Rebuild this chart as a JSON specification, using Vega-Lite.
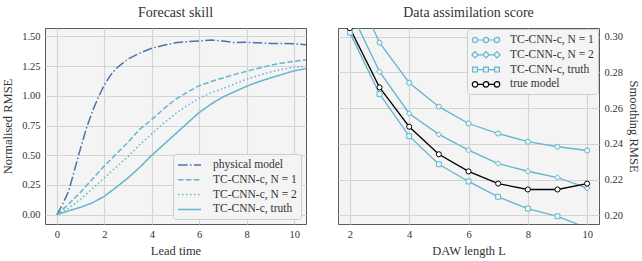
{
  "$schema": "https://vega.github.io/schema/vega-lite/v6.json",
  "padding": {"left": 1, "top": 5, "right": 0, "bottom": 2},
  "background": "white",
  "spacing": 30,
  "config": {
    "font": "Liberation Serif",
    "view": {"fill": "#f4f4f4", "stroke": "#5a5a5a", "strokeWidth": 1},
    "axis": {"labelFont": "Liberation Serif", "titleFont": "Liberation Serif", "labelFontSize": 10.5, "titleFontSize": 12.5, "titleFontWeight": "normal", "labelColor": "#333", "titleColor": "#333", "ticks": false, "domain": false, "gridColor": "#d4d4d4", "gridWidth": 1.1, "labelPadding": 5},
    "title": {"font": "Liberation Serif", "fontSize": 14, "fontWeight": "normal", "color": "#333", "offset": 8},
    "legend": {"labelFont": "Liberation Serif", "labelFontSize": 11.5, "labelColor": "#333", "fillColor": "#f4f4f4", "strokeColor": "#cccccc", "cornerRadius": 3, "padding": 4, "rowPadding": 1.8, "symbolSize": 144}
  },
  "hconcat": [
    {
      "width": 261,
      "height": 196,
      "title": "Forecast skill",
      "data": {"values": [
        {"t": 0, "v": 0, "s": "physical model"},
        {"t": 0.25, "v": 0.09, "s": "physical model"},
        {"t": 0.5, "v": 0.2, "s": "physical model"},
        {"t": 0.75, "v": 0.38, "s": "physical model"},
        {"t": 1.0, "v": 0.56, "s": "physical model"},
        {"t": 1.25, "v": 0.73, "s": "physical model"},
        {"t": 1.5, "v": 0.87, "s": "physical model"},
        {"t": 1.75, "v": 0.99, "s": "physical model"},
        {"t": 2.0, "v": 1.09, "s": "physical model"},
        {"t": 2.25, "v": 1.17, "s": "physical model"},
        {"t": 2.5, "v": 1.23, "s": "physical model"},
        {"t": 3.0, "v": 1.31, "s": "physical model"},
        {"t": 3.5, "v": 1.36, "s": "physical model"},
        {"t": 4.0, "v": 1.4, "s": "physical model"},
        {"t": 4.5, "v": 1.425, "s": "physical model"},
        {"t": 5.0, "v": 1.445, "s": "physical model"},
        {"t": 5.5, "v": 1.455, "s": "physical model"},
        {"t": 6.0, "v": 1.46, "s": "physical model"},
        {"t": 6.5, "v": 1.47, "s": "physical model"},
        {"t": 7.0, "v": 1.46, "s": "physical model"},
        {"t": 7.5, "v": 1.447, "s": "physical model"},
        {"t": 8.0, "v": 1.45, "s": "physical model"},
        {"t": 8.5, "v": 1.445, "s": "physical model"},
        {"t": 9.0, "v": 1.44, "s": "physical model"},
        {"t": 9.5, "v": 1.44, "s": "physical model"},
        {"t": 10.0, "v": 1.437, "s": "physical model"},
        {"t": 10.5, "v": 1.43, "s": "physical model"},
        {"t": 0, "v": 0, "s": "TC-CNN-c, N = 1"},
        {"t": 0.5, "v": 0.09, "s": "TC-CNN-c, N = 1"},
        {"t": 1.0, "v": 0.19, "s": "TC-CNN-c, N = 1"},
        {"t": 1.5, "v": 0.3, "s": "TC-CNN-c, N = 1"},
        {"t": 2.0, "v": 0.41, "s": "TC-CNN-c, N = 1"},
        {"t": 2.5, "v": 0.51, "s": "TC-CNN-c, N = 1"},
        {"t": 3.0, "v": 0.61, "s": "TC-CNN-c, N = 1"},
        {"t": 3.5, "v": 0.72, "s": "TC-CNN-c, N = 1"},
        {"t": 4.0, "v": 0.8, "s": "TC-CNN-c, N = 1"},
        {"t": 4.5, "v": 0.89, "s": "TC-CNN-c, N = 1"},
        {"t": 5.0, "v": 0.97, "s": "TC-CNN-c, N = 1"},
        {"t": 5.5, "v": 1.03, "s": "TC-CNN-c, N = 1"},
        {"t": 6.0, "v": 1.085, "s": "TC-CNN-c, N = 1"},
        {"t": 6.5, "v": 1.12, "s": "TC-CNN-c, N = 1"},
        {"t": 7.0, "v": 1.15, "s": "TC-CNN-c, N = 1"},
        {"t": 7.5, "v": 1.18, "s": "TC-CNN-c, N = 1"},
        {"t": 8.0, "v": 1.206, "s": "TC-CNN-c, N = 1"},
        {"t": 8.5, "v": 1.232, "s": "TC-CNN-c, N = 1"},
        {"t": 9.0, "v": 1.256, "s": "TC-CNN-c, N = 1"},
        {"t": 9.5, "v": 1.275, "s": "TC-CNN-c, N = 1"},
        {"t": 10.0, "v": 1.29, "s": "TC-CNN-c, N = 1"},
        {"t": 10.5, "v": 1.304, "s": "TC-CNN-c, N = 1"},
        {"t": 0, "v": 0, "s": "TC-CNN-c, N = 2"},
        {"t": 0.5, "v": 0.055, "s": "TC-CNN-c, N = 2"},
        {"t": 1.0, "v": 0.13, "s": "TC-CNN-c, N = 2"},
        {"t": 1.5, "v": 0.22, "s": "TC-CNN-c, N = 2"},
        {"t": 2.0, "v": 0.31, "s": "TC-CNN-c, N = 2"},
        {"t": 2.5, "v": 0.4, "s": "TC-CNN-c, N = 2"},
        {"t": 3.0, "v": 0.49, "s": "TC-CNN-c, N = 2"},
        {"t": 3.5, "v": 0.59, "s": "TC-CNN-c, N = 2"},
        {"t": 4.0, "v": 0.68, "s": "TC-CNN-c, N = 2"},
        {"t": 4.5, "v": 0.77, "s": "TC-CNN-c, N = 2"},
        {"t": 5.0, "v": 0.85, "s": "TC-CNN-c, N = 2"},
        {"t": 5.5, "v": 0.92, "s": "TC-CNN-c, N = 2"},
        {"t": 6.0, "v": 0.98, "s": "TC-CNN-c, N = 2"},
        {"t": 6.5, "v": 1.025, "s": "TC-CNN-c, N = 2"},
        {"t": 7.0, "v": 1.06, "s": "TC-CNN-c, N = 2"},
        {"t": 7.5, "v": 1.1, "s": "TC-CNN-c, N = 2"},
        {"t": 8.0, "v": 1.14, "s": "TC-CNN-c, N = 2"},
        {"t": 8.5, "v": 1.17, "s": "TC-CNN-c, N = 2"},
        {"t": 9.0, "v": 1.2, "s": "TC-CNN-c, N = 2"},
        {"t": 9.5, "v": 1.222, "s": "TC-CNN-c, N = 2"},
        {"t": 10.0, "v": 1.24, "s": "TC-CNN-c, N = 2"},
        {"t": 10.5, "v": 1.25, "s": "TC-CNN-c, N = 2"},
        {"t": 0, "v": 0, "s": "TC-CNN-c, truth"},
        {"t": 0.5, "v": 0.033, "s": "TC-CNN-c, truth"},
        {"t": 1.0, "v": 0.063, "s": "TC-CNN-c, truth"},
        {"t": 1.5, "v": 0.1, "s": "TC-CNN-c, truth"},
        {"t": 2.0, "v": 0.155, "s": "TC-CNN-c, truth"},
        {"t": 2.5, "v": 0.23, "s": "TC-CNN-c, truth"},
        {"t": 3.0, "v": 0.31, "s": "TC-CNN-c, truth"},
        {"t": 3.5, "v": 0.4, "s": "TC-CNN-c, truth"},
        {"t": 4.0, "v": 0.5, "s": "TC-CNN-c, truth"},
        {"t": 4.5, "v": 0.59, "s": "TC-CNN-c, truth"},
        {"t": 5.0, "v": 0.68, "s": "TC-CNN-c, truth"},
        {"t": 5.5, "v": 0.77, "s": "TC-CNN-c, truth"},
        {"t": 6.0, "v": 0.86, "s": "TC-CNN-c, truth"},
        {"t": 6.5, "v": 0.93, "s": "TC-CNN-c, truth"},
        {"t": 7.0, "v": 0.99, "s": "TC-CNN-c, truth"},
        {"t": 7.5, "v": 1.035, "s": "TC-CNN-c, truth"},
        {"t": 8.0, "v": 1.08, "s": "TC-CNN-c, truth"},
        {"t": 8.5, "v": 1.118, "s": "TC-CNN-c, truth"},
        {"t": 9.0, "v": 1.15, "s": "TC-CNN-c, truth"},
        {"t": 9.5, "v": 1.18, "s": "TC-CNN-c, truth"},
        {"t": 10.0, "v": 1.21, "s": "TC-CNN-c, truth"},
        {"t": 10.5, "v": 1.228, "s": "TC-CNN-c, truth"}
      ]},
      "mark": {"type": "line", "strokeWidth": 1.5, "clip": true},
      "encoding": {
        "x": {"field": "t", "type": "quantitative", "title": "Lead time", "scale": {"domain": [-0.5, 10.5], "nice": false, "zero": false}, "axis": {"values": [0, 2, 4, 6, 8, 10], "titlePadding": 5}},
        "y": {"field": "v", "type": "quantitative", "title": "Normalised RMSE", "scale": {"domain": [-0.078, 1.57], "nice": false, "zero": false}, "axis": {"values": [0, 0.25, 0.5, 0.75, 1.0, 1.25, 1.5], "format": ".2f", "titlePadding": 7}},
        "stroke": {"field": "s", "type": "nominal", "scale": {"domain": ["physical model", "TC-CNN-c, N = 1", "TC-CNN-c, N = 2", "TC-CNN-c, truth"], "range": ["#4c72b0", "#64b5cd", "#64b5cd", "#64b5cd"]},
          "legend": {"title": null, "orient": "bottom-right", "offset": 5, "symbolType": "stroke", "symbolSize": 144, "symbolStrokeWidth": 1.5, "labelOffset": 22,
            "encode": {"symbols": {"update": {
              "shape": {"value": "M-1,0L2.833,0"},
              "strokeDash": {"signal": "datum.value === 'physical model' ? [9.6, 2.4, 1.5, 2.4] : datum.value === 'TC-CNN-c, N = 1' ? [5.5, 2.4] : datum.value === 'TC-CNN-c, N = 2' ? [1.5, 2.5] : [1, 0]"}}}}}},
        "strokeDash": {"field": "s", "type": "nominal", "legend": null, "scale": {"domain": ["physical model", "TC-CNN-c, N = 1", "TC-CNN-c, N = 2", "TC-CNN-c, truth"], "range": [[9.6, 2.4, 1.5, 2.4], [5.5, 2.4], [1.5, 2.5], [1, 0]]}}
      }
    },
    {
      "width": 261,
      "height": 196,
      "title": "Data assimilation score",
      "data": {"values": [
        {"L": 2, "v": 0.333, "s": "TC-CNN-c, N = 1"},
        {"L": 3, "v": 0.2966, "s": "TC-CNN-c, N = 1"},
        {"L": 4, "v": 0.2742, "s": "TC-CNN-c, N = 1"},
        {"L": 5, "v": 0.2608, "s": "TC-CNN-c, N = 1"},
        {"L": 6, "v": 0.2514, "s": "TC-CNN-c, N = 1"},
        {"L": 7, "v": 0.2458, "s": "TC-CNN-c, N = 1"},
        {"L": 8, "v": 0.2412, "s": "TC-CNN-c, N = 1"},
        {"L": 9, "v": 0.2384, "s": "TC-CNN-c, N = 1"},
        {"L": 10, "v": 0.2363, "s": "TC-CNN-c, N = 1"},
        {"L": 2, "v": 0.315, "s": "TC-CNN-c, N = 2"},
        {"L": 3, "v": 0.2804, "s": "TC-CNN-c, N = 2"},
        {"L": 4, "v": 0.257, "s": "TC-CNN-c, N = 2"},
        {"L": 5, "v": 0.2453, "s": "TC-CNN-c, N = 2"},
        {"L": 6, "v": 0.2365, "s": "TC-CNN-c, N = 2"},
        {"L": 7, "v": 0.229, "s": "TC-CNN-c, N = 2"},
        {"L": 8, "v": 0.2247, "s": "TC-CNN-c, N = 2"},
        {"L": 9, "v": 0.2212, "s": "TC-CNN-c, N = 2"},
        {"L": 10, "v": 0.2152, "s": "TC-CNN-c, N = 2"},
        {"L": 2, "v": 0.3022, "s": "TC-CNN-c, truth"},
        {"L": 3, "v": 0.2679, "s": "TC-CNN-c, truth"},
        {"L": 4, "v": 0.2443, "s": "TC-CNN-c, truth"},
        {"L": 5, "v": 0.2286, "s": "TC-CNN-c, truth"},
        {"L": 6, "v": 0.219, "s": "TC-CNN-c, truth"},
        {"L": 7, "v": 0.2104, "s": "TC-CNN-c, truth"},
        {"L": 8, "v": 0.2038, "s": "TC-CNN-c, truth"},
        {"L": 9, "v": 0.1995, "s": "TC-CNN-c, truth"},
        {"L": 10, "v": 0.193, "s": "TC-CNN-c, truth"},
        {"L": 2, "v": 0.3047, "s": "true model"},
        {"L": 3, "v": 0.2716, "s": "true model"},
        {"L": 4, "v": 0.2496, "s": "true model"},
        {"L": 5, "v": 0.2342, "s": "true model"},
        {"L": 6, "v": 0.2246, "s": "true model"},
        {"L": 7, "v": 0.2178, "s": "true model"},
        {"L": 8, "v": 0.2145, "s": "true model"},
        {"L": 9, "v": 0.2145, "s": "true model"},
        {"L": 10, "v": 0.2178, "s": "true model"}
      ]},
      "encoding": {
        "x": {"field": "L", "type": "quantitative", "title": "DAW length L", "scale": {"domain": [1.6, 10.4], "nice": false, "zero": false}, "axis": {"values": [2, 4, 6, 8, 10], "titlePadding": 5}},
        "y": {"field": "v", "type": "quantitative", "title": "Smoothing RMSE", "scale": {"domain": [0.1952, 0.3048], "nice": false, "zero": false}, "axis": {"orient": "right", "values": [0.2, 0.22, 0.24, 0.26, 0.28, 0.3], "format": ".2f", "labelPadding": 5, "titlePadding": 4}},
        "stroke": {"field": "s", "type": "nominal", "scale": {"domain": ["TC-CNN-c, N = 1", "TC-CNN-c, N = 2", "TC-CNN-c, truth", "true model"], "range": ["#64b5cd", "#64b5cd", "#64b5cd", "#000000"]},
          "legend": {"title": null, "orient": "top-right", "offset": 1, "symbolSize": 144, "symbolStrokeWidth": 1.2, "symbolType": "circle", "labelOffset": 25,
            "encode": {"symbols": {"update": {
              "shape": {"signal": "datum.value === 'TC-CNN-c, N = 2' ? 'M0.02,0L0.813,0M1.853,0L2.647,0M-0.5,-0.52L0.02,0L-0.5,0.52L-1.02,0ZM1.333,-0.52L1.853,0L1.333,0.52L0.813,0ZM3.167,-0.52L3.687,0L3.167,0.52L2.647,0Z' : datum.value === 'TC-CNN-c, truth' ? 'M-0.1,0L0.933,0M1.733,0L2.767,0M-0.9,-0.4h0.8v0.8h-0.8ZM0.933,-0.4h0.8v0.8h-0.8ZM2.767,-0.4h0.8v0.8h-0.8Z' : 'M-0.05,0L0.883,0M1.783,0L2.717,0M-0.05,0A0.45,0.45,0,1,1,-0.95,0A0.45,0.45,0,1,1,-0.05,0ZM1.783,0A0.45,0.45,0,1,1,0.883,0A0.45,0.45,0,1,1,1.783,0ZM3.617,0A0.45,0.45,0,1,1,2.717,0A0.45,0.45,0,1,1,3.617,0Z'"},
              "fill": {"signal": "datum.value === 'true model' ? '#ffffff' : '#e9f5f9'"},
              "fillOpacity": {"value": 1}
            }}}}}
      },
      "layer": [
        {"mark": {"type": "line", "strokeWidth": 1.3, "clip": true}},
        {"transform": [{"filter": "datum.s === 'TC-CNN-c, N = 1'"}],
          "mark": {"type": "point", "shape": "circle", "clip": true, "strokeWidth": 1, "opacity": 1, "fill": "#e9f5f9", "fillOpacity": 1, "size": 26}},
        {"transform": [{"filter": "datum.s === 'TC-CNN-c, N = 2'"}],
          "mark": {"type": "point", "shape": "diamond", "clip": true, "strokeWidth": 1, "opacity": 1, "fill": "#e9f5f9", "fillOpacity": 1, "size": 32}},
        {"transform": [{"filter": "datum.s === 'TC-CNN-c, truth'"}],
          "mark": {"type": "point", "shape": "square", "clip": true, "strokeWidth": 1, "opacity": 1, "fill": "#e9f5f9", "fillOpacity": 1, "size": 24}},
        {"transform": [{"filter": "datum.s === 'true model'"}],
          "mark": {"type": "point", "shape": "circle", "clip": true, "strokeWidth": 1, "opacity": 1, "fill": "#ffffff", "fillOpacity": 1, "size": 26}}
      ]
    }
  ],
  "resolve": {"scale": {"x": "independent", "y": "independent", "stroke": "independent", "strokeDash": "independent"}, "legend": {"stroke": "independent"}}
}
